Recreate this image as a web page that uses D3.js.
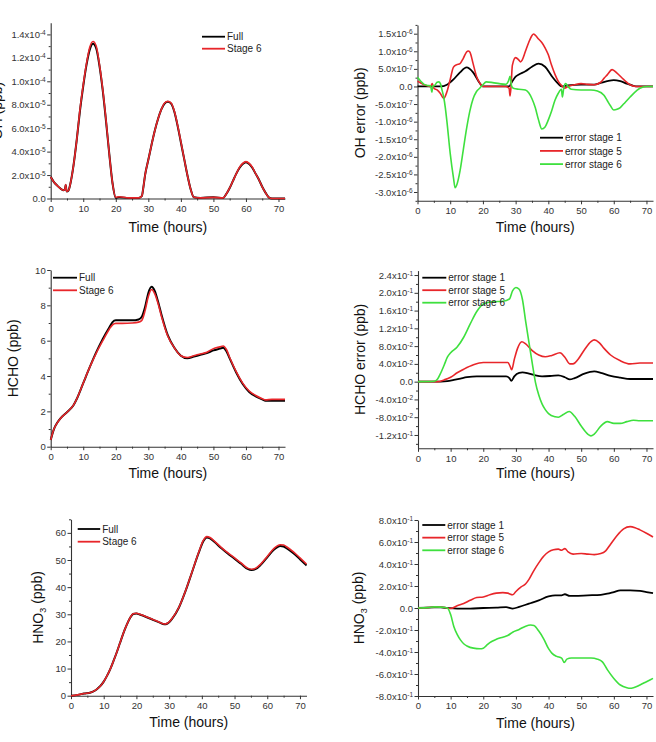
<!DOCTYPE html>
<html><head><meta charset="utf-8">
<script src="https://cdn.jsdelivr.net/npm/d3@7"></script>
<style>
html,body{margin:0;padding:0;background:#fff;}
svg{display:block;font-family:"Liberation Sans",Arial,Helvetica,sans-serif;}
</style></head>
<body><svg id="c" width="656" height="742"></svg>
<script>
// ---------------- DATA ----------------
const timeTicks = [0,10,20,30,40,50,60,70];

// Panel 1: OH (ppb)
const ohFull = [[0,1.85e-5],[1,1.4e-5],[2,1.1e-5],[3,0.85e-5],[4,0.7e-5],[4.4,0.8e-5],[4.6,1.15e-5],[4.9,0.6e-5],[5.5,0.7e-5],[6,1.2e-5],[7,2.8e-5],[8,5.0e-5],[9,7.5e-5],[10,9.6e-5],[11,1.14e-4],[12,1.27e-4],[13,1.32e-4],[14,1.28e-4],[15,1.13e-4],[16,9.2e-5],[17,6.6e-5],[18,3.8e-5],[19,1.3e-5],[20,0.05e-5],[21,0.1e-5],[24,0.05e-5],[27,0.05e-5],[28,0.2e-5],[28.5,1.0e-5],[29,2.0e-5],[30,3.3e-5],[31,4.6e-5],[32,5.8e-5],[33,6.8e-5],[34,7.6e-5],[35,8.1e-5],[36,8.25e-5],[37,8.1e-5],[38,7.4e-5],[39,6.2e-5],[40,4.8e-5],[41,3.4e-5],[42,2.0e-5],[43,0.8e-5],[44,0.1e-5],[46,0.05e-5],[50,0.1e-5],[53,0.05e-5],[54,0.4e-5],[55,0.9e-5],[56,1.5e-5],[57,2.1e-5],[58,2.6e-5],[59,2.95e-5],[60,3.1e-5],[61,2.95e-5],[62,2.6e-5],[63,2.1e-5],[64,1.6e-5],[65,1.0e-5],[66,0.5e-5],[67,0.1e-5],[68,0],[72,0]];
const ohStage6 = [[0,1.85e-5],[1,1.4e-5],[2,1.1e-5],[3,0.85e-5],[4,0.7e-5],[4.4,0.8e-5],[4.6,1.2e-5],[4.9,0.6e-5],[5.5,0.7e-5],[6,1.2e-5],[7,2.8e-5],[8,5.0e-5],[9,7.6e-5],[10,9.7e-5],[11,1.15e-4],[12,1.29e-4],[13,1.34e-4],[14,1.30e-4],[15,1.14e-4],[16,9.3e-5],[17,6.7e-5],[18,3.8e-5],[19,1.3e-5],[20,0.1e-5],[21,0.15e-5],[24,0.05e-5],[27,0.05e-5],[28,0.2e-5],[28.5,1.0e-5],[29,2.0e-5],[30,3.3e-5],[31,4.6e-5],[32,5.8e-5],[33,6.8e-5],[34,7.6e-5],[35,8.15e-5],[36,8.3e-5],[37,8.15e-5],[38,7.45e-5],[39,6.25e-5],[40,4.85e-5],[41,3.4e-5],[42,2.0e-5],[43,0.8e-5],[44,0.1e-5],[46,0.05e-5],[50,0.1e-5],[53,0.05e-5],[54,0.4e-5],[55,0.9e-5],[56,1.5e-5],[57,2.1e-5],[58,2.65e-5],[59,3.0e-5],[60,3.15e-5],[61,3.0e-5],[62,2.65e-5],[63,2.1e-5],[64,1.6e-5],[65,1.0e-5],[66,0.5e-5],[67,0.1e-5],[68,0],[72,0]];
const ohTicks = [0,2e-5,4e-5,6e-5,8e-5,1e-4,1.2e-4,1.4e-4];

// Panel 2: OH error (ppb)
const ohErr1 = [[0,0],[5,0],[7,0],[9,0.5e-7],[11,2e-7],[13,4e-7],[15,5.4e-7],[17,4e-7],[19,1e-7],[20,0],[28,0],[29,1.5e-7],[30,2.8e-7],[31,3.4e-7],[33,4.3e-7],[35,5.6e-7],[37,6.5e-7],[39,5.6e-7],[41,3e-7],[43,0.8e-7],[44,0],[46,0.3e-7],[50,0.5e-7],[54,0.5e-7],[56,1e-7],[58,1.5e-7],[60,1.8e-7],[62,1.5e-7],[64,0.8e-7],[66,0.2e-7],[67,0],[72,0]];
const ohErr5 = [[0,1.5e-7],[1,1e-7],[2,0.5e-7],[3,0.2e-7],[4,0],[4.5,0.8e-7],[5,-0.5e-7],[6,-1e-7],[7,-2e-7],[8,-3.4e-7],[9,-1.5e-7],[10,2e-7],[11,5.5e-7],[12,6.2e-7],[13,6.5e-7],[14,8e-7],[15,9.8e-7],[15.5,1.01e-6],[16,9.8e-7],[17,6.5e-7],[18,3e-7],[19,1e-7],[20,0],[27,0],[28,-0.5e-7],[28.3,-2.7e-7],[28.6,0],[29,6e-7],[30,8.2e-7],[31,7.5e-7],[31.5,7.0e-7],[32,7.5e-7],[33,1.0e-6],[34,1.25e-6],[35,1.45e-6],[35.5,1.49e-6],[36,1.46e-6],[37,1.35e-6],[38,1.25e-6],[39,1.1e-6],[40,9e-7],[41,6e-7],[42,3.5e-7],[43,1.5e-7],[44,0.3e-7],[45,-0.5e-7],[46,0],[48,0.5e-7],[50,0.8e-7],[52,0.6e-7],[54,0.5e-7],[56,1.2e-7],[57,2.3e-7],[58,3.3e-7],[59.5,4.8e-7],[61,3.8e-7],[63,2e-7],[65,0.5e-7],[67,0],[72,0]];
const ohErr6 = [[0,2.6e-7],[1,1.5e-7],[2,0.6e-7],[3,0.3e-7],[4,0.2e-7],[4.4,-1.6e-7],[4.7,0.2e-7],[5.2,0.3e-7],[6,1.2e-7],[6.5,1.3e-7],[7,0.8e-7],[7.5,-1e-7],[8,-3e-7],[8.5,-6e-7],[9,-1.0e-6],[10,-1.9e-6],[11,-2.6e-6],[11.5,-2.88e-6],[12,-2.8e-6],[13,-2.4e-6],[14,-1.8e-6],[15,-1.2e-6],[16,-7e-7],[17,-3.5e-7],[18,-1.5e-7],[19,-0.5e-7],[20,0.5e-7],[21,1.3e-7],[23,1.1e-7],[25,0.8e-7],[27,0.6e-7],[27.8,1.5e-7],[28.3,2.9e-7],[28.8,0],[29.5,-0.6e-7],[31,-0.8e-7],[33,-1e-7],[34,-1.8e-7],[35,-3.5e-7],[36,-6e-7],[37,-9.5e-7],[38,-1.21e-6],[39,-1.15e-6],[40,-9.5e-7],[41,-7e-7],[42,-4e-7],[43,-2e-7],[44,-0.8e-7],[44.3,-3e-7],[44.7,-0.5e-7],[45.3,0.8e-7],[46,0],[47,-0.8e-7],[50,-1e-7],[53,-1e-7],[55,-1.3e-7],[57,-2.5e-7],[58,-4e-7],[59,-5.5e-7],[60,-6.7e-7],[61,-6.5e-7],[62,-6e-7],[63,-5e-7],[65,-3e-7],[67,-1.2e-7],[68,-0.5e-7],[70,0],[72,0]];
const ohErrTicks = [1.5e-6,1e-6,5e-7,0,-5e-7,-1e-6,-1.5e-6,-2e-6,-2.5e-6,-3e-6];

// Panel 3: HCHO (ppb)
const hchoFull = [[0,0.38],[1,1.0],[2,1.35],[3,1.6],[5,1.95],[7,2.35],[8,2.7],[10,3.6],[12,4.5],[14,5.35],[16,6.1],[18,6.75],[19,7.05],[20,7.15],[22,7.15],[25,7.15],[27,7.2],[28,7.35],[29,7.9],[30,8.7],[31,9.05],[32,8.8],[33,8.2],[34,7.5],[36,6.3],[38,5.6],[40,5.15],[42,5.0],[44,5.1],[46,5.2],[48,5.3],[50,5.45],[52,5.55],[53,5.6],[54,5.4],[55,5.0],[57,4.2],[59,3.55],[61,3.1],[63,2.85],[65,2.68],[66,2.6],[68,2.6],[72,2.6]];
const hchoStage6 = [[0,0.38],[1,1.0],[2,1.35],[3,1.6],[5,1.95],[7,2.35],[8,2.7],[10,3.6],[12,4.5],[14,5.3],[16,6.0],[18,6.65],[19,6.9],[20,6.98],[22,6.98],[25,7.0],[27,7.05],[28,7.15],[29,7.7],[30,8.5],[31,8.9],[32,8.65],[33,8.1],[34,7.4],[36,6.25],[38,5.6],[40,5.15],[42,5.05],[44,5.15],[46,5.25],[48,5.35],[50,5.55],[52,5.65],[53,5.7],[54,5.5],[55,5.05],[57,4.25],[59,3.6],[61,3.15],[63,2.9],[65,2.72],[66,2.65],[68,2.68],[72,2.68]];
const hchoTicks = [0,2,4,6,8,10];

// Panel 4: HCHO error (ppb)
const hchoErr1 = [[0,0],[7,0],[9,0.001],[11,0.004],[13,0.007],[15,0.01],[18,0.012],[22,0.012],[27,0.012],[28,0.008],[28.6,0.002],[29.5,0.012],[31,0.02],[32,0.021],[34,0.018],[36,0.014],[38,0.012],[41,0.013],[43,0.014],[45,0.01],[46.5,0.005],[48,0.008],[51,0.018],[54,0.023],[56,0.02],[59,0.013],[62,0.009],[65,0.006],[68,0.006],[72,0.006]];
const hchoErr5 = [[0,0],[6,0],[8,0.004],[10,0.01],[12,0.02],[14,0.028],[17,0.038],[20,0.043],[24,0.043],[27.5,0.043],[28.2,0.035],[28.7,0.027],[29.5,0.05],[30.5,0.075],[31.8,0.09],[33,0.085],[35,0.07],[37,0.06],[39,0.056],[41,0.059],[43.5,0.065],[45,0.055],[46.5,0.04],[47.5,0.04],[49,0.05],[51,0.072],[53,0.09],[54,0.094],[55.5,0.088],[57,0.075],[59,0.06],[62,0.047],[65,0.04],[68,0.042],[72,0.042]];
const hchoErr6 = [[0,0],[5,0.001],[6,0.006],[7,0.02],[8,0.037],[9,0.055],[10,0.065],[12,0.078],[14,0.1],[16,0.13],[18,0.158],[20,0.175],[23,0.18],[26,0.181],[28,0.186],[29,0.205],[30,0.212],[31,0.208],[32,0.185],[33,0.135],[34,0.088],[35,0.042],[36,-0.002],[37,-0.03],[38,-0.05],[39,-0.063],[40,-0.072],[42,-0.079],[43,-0.08],[44.5,-0.074],[46.3,-0.067],[48,-0.078],[50,-0.1],[52,-0.118],[53,-0.122],[54,-0.118],[56,-0.1],[58,-0.09],[60,-0.094],[62,-0.094],[64,-0.09],[66,-0.087],[68,-0.088],[72,-0.088]];
const hchoErrTicks = [0.24,0.2,0.16,0.12,0.08,0.04,0,-0.04,-0.08,-0.12];

// Panel 5: HNO3 (ppb)
const hno3Full = [[0,0],[2,0.3],[4,0.8],[6,1.2],[7,1.7],[8,2.5],[9,3.6],[10,5.2],[11,7.3],[12,9.8],[13,12.8],[14,16],[15,19.5],[16,23],[17,26],[18,28.5],[19,30.1],[20,30.3],[21,29.9],[23,29],[25,28],[27,27],[28.5,26.3],[29.5,26.6],[31,28.5],[33,32.5],[35,38.5],[37,45.5],[39,52.5],[40.5,57],[41.5,58.3],[42.5,58],[44,56.5],[46,54.3],[48,52.3],[50,50.5],[52,48.6],[54,46.7],[55.2,46.3],[56.5,46.7],[58,48.2],[60,51],[62,53.8],[64,55.2],[65,55],[66,54.3],[68,52.5],[70,50.3],[72,48]];
const hno3Stage6 = [[0,0],[2,0.3],[4,0.8],[6,1.2],[7,1.7],[8,2.5],[9,3.6],[10,5.2],[11,7.3],[12,9.8],[13,12.8],[14,16],[15,19.5],[16,23],[17,26],[18,28.6],[19,30.2],[20,30.4],[21,30],[23,29.1],[25,28.1],[27,27.1],[28.5,26.4],[29.5,26.7],[31,28.6],[33,32.6],[35,38.6],[37,45.6],[39,52.7],[40.5,57.3],[41.5,58.6],[42.5,58.3],[44,56.8],[46,54.6],[48,52.6],[50,50.8],[52,48.9],[54,47],[55.2,46.6],[56.5,47],[58,48.5],[60,51.3],[62,54.2],[64,55.6],[65,55.5],[66,54.8],[68,53],[70,50.8],[72,48.5]];
const hno3Ticks = [0,10,20,30,40,50,60];

// Panel 6: HNO3 error (ppb)
const hno3Err1 = [[0,0],[5,0.005],[7,0.005],[9,0],[12,-0.005],[16,-0.005],[20,0],[24,0.003],[27,0.008],[29,-0.005],[31,0.01],[34,0.04],[37,0.07],[40,0.105],[42,0.115],[44,0.115],[45,0.125],[46.5,0.11],[48,0.11],[52,0.115],[56,0.12],[58,0.13],[60,0.145],[62,0.16],[65,0.16],[68,0.155],[70,0.145],[72,0.135]];
const hno3Err5 = [[0,0],[3,0.003],[5,0.01],[6,0.012],[8,0.005],[10,-0.005],[12,0.02],[14,0.04],[16,0.07],[18,0.095],[20,0.1],[22,0.12],[24,0.135],[26,0.14],[27.5,0.135],[29,0.12],[30,0.15],[31.5,0.19],[33,0.22],[34,0.26],[35.5,0.34],[37,0.41],[38.5,0.47],[40,0.51],[41.5,0.53],[43,0.535],[44,0.525],[45,0.54],[46,0.51],[47.5,0.49],[50,0.495],[52,0.49],[54,0.485],[56,0.495],[57.5,0.52],[59,0.58],[61,0.66],[63,0.72],[65,0.74],[66.5,0.73],[68,0.71],[70,0.68],[72,0.645]];
const hno3Err6 = [[0,0],[3,0.003],[5,0.01],[7,0.008],[9,0],[10,-0.06],[11,-0.17],[12,-0.24],[13,-0.29],[14,-0.325],[15,-0.345],[17,-0.365],[19,-0.37],[20,-0.365],[21,-0.34],[22,-0.315],[24,-0.285],[26,-0.265],[27.5,-0.25],[29,-0.22],[31,-0.195],[33,-0.165],[34.5,-0.155],[35.5,-0.16],[37,-0.21],[38.5,-0.28],[40,-0.37],[41,-0.41],[42.5,-0.44],[44,-0.455],[44.8,-0.495],[45.6,-0.465],[47,-0.455],[50,-0.455],[53,-0.455],[55,-0.465],[56.5,-0.49],[58,-0.56],[60,-0.64],[62,-0.7],[64,-0.725],[65,-0.73],[66,-0.725],[68,-0.7],[70,-0.67],[72,-0.64]];
const hno3ErrTicks = [0.8,0.6,0.4,0.2,0,-0.2,-0.4,-0.6,-0.8];

const BLACK = "#000000", RED = "#e8262a", GREEN = "#3ee03e";

// ---------------- DRAW ----------------
const svg = d3.select("#c");

function sciParts(v){
  if (Math.abs(v) < 1e-15) return ["0.0", null];
  const e = Math.floor(Math.log10(Math.abs(v)) + 1e-9);
  const m = v / Math.pow(10, e);
  return [m.toFixed(1) + "x10", String(e)];
}

function panel(cfg){
  const x = d3.scaleLinear().domain([0,72]).range([cfg.x0, cfg.x1]);
  const y = d3.scaleLinear().domain(cfg.yDomain).range([cfg.yb, cfg.yt]);
  const g = svg.append("g");

  // minor ticks
  const xMinor = d3.range(0, 73, 5).filter(v => v % 10 !== 0);
  g.append("g").attr("transform", `translate(0,${cfg.yb})`)
    .call(d3.axisBottom(x).tickValues(xMinor).tickSize(2).tickSizeOuter(0).tickFormat(""))
    .call(s => s.select(".domain").remove());
  g.append("g").attr("transform", `translate(${cfg.x0},0)`)
    .call(d3.axisLeft(y).tickValues(cfg.yMinor).tickSize(2).tickSizeOuter(0).tickFormat(""))
    .call(s => s.select(".domain").remove());

  // major axes
  const ax = g.append("g").attr("transform", `translate(0,${cfg.yb})`)
    .call(d3.axisBottom(x).tickValues(timeTicks).tickSize(3.5).tickPadding(3).tickSizeOuter(0).tickFormat(d3.format("d")));
  const ay = g.append("g").attr("transform", `translate(${cfg.x0},0)`)
    .call(d3.axisLeft(y).tickValues(cfg.yTicks).tickSize(3.5).tickPadding(1.5).tickSizeOuter(0));
  if (cfg.sci) {
    ay.selectAll(".tick text").each(function(d){
      const t = d3.select(this); t.text("");
      const [a, b] = sciParts(d);
      t.append("tspan").text(a);
      if (b !== null) t.append("tspan").attr("dy", "-0.45em").attr("font-size", "6.5px").text(b);
    });
  }
  [ax, ay].forEach(a => {
    a.attr("font-family", null).attr("font-size", null);
    a.selectAll(".tick text").attr("font-size", "9.5px").attr("fill", "#333");
    a.selectAll("line").attr("stroke", "#333");
    a.select(".domain").attr("stroke", "#333").attr("stroke-width", 1.1);
  });
  g.selectAll("line").attr("stroke", "#333");

  // lines
  const line = d3.line().x(d => x(d[0])).y(d => y(d[1])).curve(d3.curveMonotoneX);
  cfg.series.forEach(s => {
    g.append("path").datum(s.data).attr("d", line)
      .attr("fill", "none").attr("stroke", s.color).attr("stroke-width", s.w || 1.6)
      .attr("stroke-linejoin", "round");
  });

  // legend
  cfg.series.forEach((s, i) => {
    const ly = cfg.leg.y + i * cfg.leg.dy;
    g.append("line").attr("x1", cfg.leg.x).attr("x2", cfg.leg.x + cfg.leg.len)
      .attr("y1", ly).attr("y2", ly).attr("stroke", s.color).attr("stroke-width", 1.8);
    g.append("text").attr("x", cfg.leg.x + cfg.leg.len + 2).attr("y", ly + 3.6)
      .attr("font-size", "10px").attr("fill", "#222").text(s.name);
  });

  // titles
  g.append("text").attr("x", (cfg.x0 + cfg.x1) / 2).attr("y", cfg.xTitleY)
    .attr("text-anchor", "middle").attr("font-size", "14px").attr("fill", "#111").text("Time (hours)");
  const yt = g.append("text")
    .attr("transform", `translate(${cfg.yTitleX},${(cfg.yb + cfg.yt) / 2}) rotate(-90)`)
    .attr("text-anchor", "middle").attr("font-size", "14px").attr("fill", "#111");
  cfg.yTitle.forEach(p => {
    const ts = yt.append("tspan").text(p.t);
    if (p.sub) ts.attr("font-size", "9px").attr("dy", "0.3em");
    if (p.after) ts.attr("dy", "-0.3em");
  });
}

panel({x0:50.7, x1:285, yb:198.5, yt:22.7, yDomain:[0,1.5e-4], yTicks:ohTicks,
  yMinor:d3.range(1e-5, 1.5e-4, 2e-5), sci:true, xTitleY:232, yTitleX:2,
  yTitle:[{t:"OH (ppb)"}],
  series:[{name:"Full", data:ohFull, color:BLACK, w:2},{name:"Stage 6", data:ohStage6, color:RED, w:1.6}],
  leg:{x:202, y:36.7, dy:12, len:23}});

panel({x0:417.5, x1:653, yb:200.8, yt:24.9, yDomain:[-3.25e-6,1.75e-6], yTicks:ohErrTicks,
  yMinor:d3.range(-3.25e-6, 1.76e-6, 5e-7), sci:true, xTitleY:231.5, yTitleX:365,
  yTitle:[{t:"OH error (ppb)"}],
  series:[{name:"error stage 1", data:ohErr1, color:BLACK, w:1.8},{name:"error stage 5", data:ohErr5, color:RED},{name:"error stage 6", data:ohErr6, color:GREEN}],
  leg:{x:540, y:137.7, dy:13.2, len:23}});

panel({x0:50.7, x1:285, yb:446.7, yt:270, yDomain:[0,10], yTicks:hchoTicks,
  yMinor:d3.range(1, 10, 2), sci:false, xTitleY:478, yTitleX:18,
  yTitle:[{t:"HCHO (ppb)"}],
  series:[{name:"Full", data:hchoFull, color:BLACK, w:2},{name:"Stage 6", data:hchoStage6, color:RED, w:1.6}],
  leg:{x:53, y:277.7, dy:12.6, len:24}});

panel({x0:418, x1:653, yb:448.3, yt:270.6, yDomain:[-0.15,0.25], yTicks:hchoErrTicks,
  yMinor:d3.range(-0.14, 0.25, 0.04), sci:true, xTitleY:478, yTitleX:365,
  yTitle:[{t:"HCHO error (ppb)"}],
  series:[{name:"error stage 1", data:hchoErr1, color:BLACK, w:1.8},{name:"error stage 5", data:hchoErr5, color:RED},{name:"error stage 6", data:hchoErr6, color:GREEN}],
  leg:{x:422.3, y:277.7, dy:12.5, len:24}});

panel({x0:71, x1:306.5, yb:695.7, yt:519.3, yDomain:[0,65], yTicks:hno3Ticks,
  yMinor:d3.range(5, 66, 10), sci:false, xTitleY:727, yTitleX:43,
  yTitle:[{t:"HNO"},{t:"3", sub:true},{t:" (ppb)", after:true}],
  series:[{name:"Full", data:hno3Full, color:BLACK, w:2},{name:"Stage 6", data:hno3Stage6, color:RED, w:1.6}],
  leg:{x:77.7, y:529, dy:12.7, len:22.5}});

panel({x0:418, x1:653, yb:696, yt:520, yDomain:[-0.8,0.8], yTicks:hno3ErrTicks,
  yMinor:d3.range(-0.7, 0.8, 0.2), sci:true, xTitleY:728, yTitleX:364,
  yTitle:[{t:"HNO"},{t:"3", sub:true},{t:" (ppb)", after:true}],
  series:[{name:"error stage 1", data:hno3Err1, color:BLACK, w:1.8},{name:"error stage 5", data:hno3Err5, color:RED},{name:"error stage 6", data:hno3Err6, color:GREEN}],
  leg:{x:422.3, y:525, dy:12.65, len:23}});
</script>
</body></html>
